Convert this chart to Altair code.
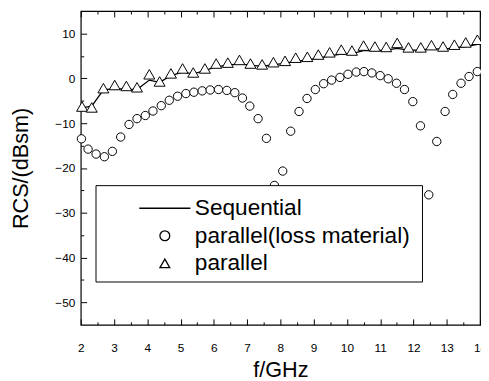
import altair as alt
import pandas as pd

# ---- data ----
freq_circ = [2.02, 2.22, 2.46, 2.71, 2.95, 3.20, 3.45, 3.69, 3.94, 4.17,
             4.42, 4.66, 4.91, 5.16, 5.40, 5.65, 5.89, 6.14, 6.39, 6.63,
             6.86, 7.08, 7.33, 7.58, 7.82, 8.07, 8.31, 8.56, 8.80, 9.05,
             9.30, 9.54, 9.79, 10.03, 10.28, 10.51, 10.75, 11.00, 11.24, 11.49,
             11.73, 11.98, 12.21, 12.46, 12.70, 12.95, 13.18, 13.43, 13.67, 13.92]
rcs_circ = [-13.5, -15.8, -16.9, -17.5, -16.3, -13.1, -10.3, -9.0, -8.3, -7.3,
            -6.1, -4.9, -4.0, -3.4, -3.1, -2.8, -2.6, -2.5, -2.7, -3.2,
            -4.4, -6.2, -9.0, -13.4, -23.9, -20.7, -11.8, -7.4, -4.5, -2.5,
            -1.2, -0.4, 0.2, 0.9, 1.4, 1.5, 1.2, 0.6, -0.1, -1.1,
            -2.5, -5.2, -10.6, -26.0, -14.1, -7.4, -3.6, -1.1, 0.4, 1.5]

freq_tri = [2.04, 2.33, 2.68, 3.02, 3.37, 3.69, 4.06, 4.37, 4.71, 5.06,
            5.38, 5.73, 6.07, 6.42, 6.77, 7.10, 7.45, 7.79, 8.14, 8.46,
            8.81, 9.14, 9.48, 9.83, 10.15, 10.50, 10.84, 11.18, 11.51, 11.85,
            12.22, 12.54, 12.89, 13.23, 13.57, 13.92]
rcs_tri = [-6.3, -6.5, -2.2, -1.5, -1.7, -2.0, 0.9, -0.7, 1.1, 2.2,
           1.3, 2.2, 3.3, 3.5, 4.1, 3.3, 3.1, 3.6, 3.9, 4.6,
           4.8, 5.3, 5.8, 6.4, 6.2, 7.3, 7.1, 7.0, 7.9, 6.9,
           6.9, 7.4, 7.1, 7.5, 8.0, 8.6]
rcs_seq = [-6.6, -6.2, -2.6, -2.3, -2.4, -2.5, -0.4, -0.9, 0.6, 1.4,
           1.0, 1.7, 2.6, 2.9, 3.3, 2.9, 2.7, 3.0, 3.4, 3.8,
           4.1, 4.5, 5.0, 5.4, 5.5, 6.2, 6.2, 6.3, 6.7, 6.3,
           6.3, 6.6, 6.5, 6.8, 7.1, 7.6]

series_names = ["Sequential", "parallel(loss material)", "parallel"]
x_major = [2, 3, 4, 5, 6, 7, 8, 9, 10, 11, 12, 13, 14]
x_minor = [2.5, 3.5, 4.5, 5.5, 6.5, 7.5, 8.5, 9.5, 10.5, 11.5, 12.5, 13.5]
y_major = [-50, -40, -30, -20, -10, 0, 10]
y_minor = [-45, -35, -25, -15, -5, 5]

W, H = 406, 319
FONT = "Liberation Sans"
# invisible (white, tiny) spacer title that widens the legend frame
LEGEND_SPACER = "M" * 96

df_circ = pd.DataFrame({"f": freq_circ, "rcs": rcs_circ})
df_tri = pd.DataFrame({"f": freq_tri, "rcs": rcs_tri})
df_seq = pd.DataFrame({"f": freq_tri, "rcs": rcs_seq})
df_leg = pd.DataFrame({"series": series_names})

xs = alt.Scale(domain=[2, 14], nice=False, zero=False)
ys = alt.Scale(domain=[-55, 15], nice=False, zero=False)


def tick_axis(orient, offset, values, size):
    return alt.Axis(orient=orient, offset=offset, values=values, tickSize=size,
                    labels=False, title=None, domain=False, grid=False,
                    tickColor="black", tickWidth=1)


line = alt.Chart(df_seq).mark_line(color="black", strokeWidth=1.3).encode(
    x=alt.X("f:Q", scale=xs, axis=alt.Axis(
        orient="bottom", values=x_major, ticks=False, labelPadding=18,
        title="f/GHz", titlePadding=7, format="d", labelFlush=False,
        labelOverlap=False, domain=False, grid=False)),
    y=alt.Y("rcs:Q", scale=ys, axis=alt.Axis(
        orient="left", values=y_major, ticks=False, labelPadding=6,
        title="RCS/(dBsm)", titlePadding=23, labelFlush=False,
        labelOverlap=False, domain=False, grid=False)),
)

tri = alt.Chart(df_tri).mark_point(
    shape="triangle-up", size=125, filled=True, fill="white", stroke="black",
    strokeWidth=1, opacity=1).encode(
    x=alt.X("f:Q", scale=xs, axis=tick_axis("top", -H, x_major, 6)),
    y=alt.Y("rcs:Q", scale=ys, axis=tick_axis("right", -W, y_major, 6)),
)

circ = alt.Chart(df_circ).mark_point(
    shape="circle", size=72, filled=True, fill="white", stroke="black",
    strokeWidth=1, opacity=1).encode(
    x=alt.X("f:Q", scale=xs, axis=tick_axis("bottom", -H, x_major, 6)),
    y=alt.Y("rcs:Q", scale=ys, axis=tick_axis("right", -W, y_minor, 3)),
)

minor_a = alt.Chart(df_tri).mark_point(opacity=0).encode(
    x=alt.X("f:Q", scale=xs, axis=tick_axis("top", -H, x_minor, 3)),
    y=alt.Y("rcs:Q", scale=ys, axis=None),
)
minor_b = alt.Chart(df_tri).mark_point(opacity=0).encode(
    x=alt.X("f:Q", scale=xs, axis=tick_axis("bottom", -H, x_minor, 3)),
    y=alt.Y("rcs:Q", scale=ys, axis=None),
)

# legend-only layer: its own points are parked outside the clipped plot area
leg = alt.Chart(df_leg).mark_point(
    filled=False, color="black", clip=True).encode(
    x=alt.value(-60), y=alt.value(-60),
    shape=alt.Shape("series:N", scale=alt.Scale(
        domain=series_names, range=["M-5.2,0L5.2,0", "circle", "triangle-up"]),
        legend=alt.Legend(
            orient="none", legendX=15, legendY=177, title=LEGEND_SPACER,
            titleFontSize=4, titlePadding=2, titleColor="white",
            titleLimit=1000, titleFont=FONT, titleFontWeight="normal",
            padding=6, strokeColor="black", fillColor="white",
            labelFont=FONT, labelFontSize=23, labelColor="black",
            labelLimit=0, rowPadding=4, symbolOffset=53, labelOffset=19,
            symbolSize=100, symbolStrokeWidth=1.3, symbolOpacity=1,
            symbolStrokeColor="black")),
)

chart = alt.layer(line, tri, circ, minor_a, minor_b, leg).resolve_axis(
    x="independent", y="independent"
).properties(
    width=W, height=H,
    autosize=alt.AutoSizeParams(type="none"),
    padding={"left": 74, "top": 0, "right": 1, "bottom": 53},
).configure_view(
    stroke="black", strokeWidth=1.2
).configure_axis(
    labelFont=FONT, labelFontSize=12, labelColor="black",
    titleFont=FONT, titleFontSize=22, titleFontWeight="normal",
    titleColor="black",
)

chart.save("out.html", embed_options={"renderer": "svg", "actions": False})
